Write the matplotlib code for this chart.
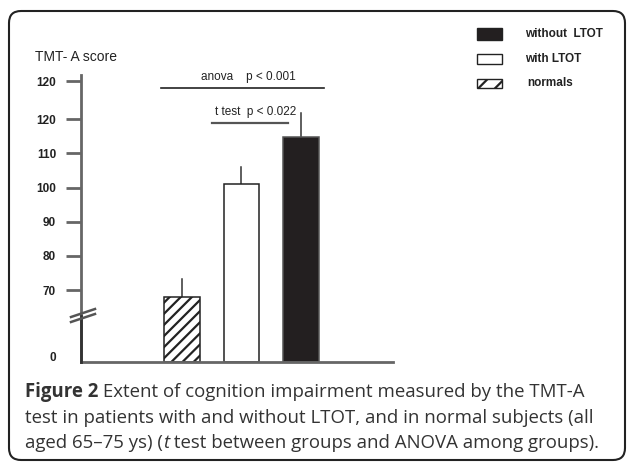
import matplotlib
matplotlib.use("Agg")
import matplotlib.pyplot as plt
from matplotlib.patches import Rectangle, FancyBboxPatch
from matplotlib.lines import Line2D
from matplotlib.transforms import IdentityTransform

# ---- data ----
groups = ["normals", "with LTOT", "without LTOT"]
means = [68.0, 100.9, 114.7]
errors = [5.2, 5.2, 7.0]
tick_values = [50.5, 70, 80, 90, 100, 110, 120, 131]
tick_labels = ["0", "70", "80", "90", "100", "110", "120", "120"]
legend_labels = ["without  LTOT", "with LTOT", "normals"]
anova_text = "anova    p < 0.001"
ttest_text = "t test  p < 0.022"
axis_title = "TMT- A score"
caption_lines = [
    [("Figure 2", "bold", "normal"), (" Extent of cognition impairment measured by the TMT-A", "normal", "normal")],
    [("test in patients with and without LTOT, and in normal subjects (all", "normal", "normal")],
    [("aged 65\u201375 ys) (", "normal", "normal"), ("t", "normal", "italic"),
     (" test between groups and ANOVA among groups).", "normal", "normal")],
]

W, H = 629, 462
plt.rcParams["hatch.linewidth"] = 1.6
fig = plt.figure(figsize=(W / 100, H / 100), dpi=100)
fig.patch.set_facecolor("white")

def fx(x):
    return x / W

def fy(y):
    return 1 - y / H

# axes placed in pixel terms
left, right, top, bottom = 81, 393, 75, 362
ax = fig.add_axes([fx(left), fy(bottom), (right - left) / W, (bottom - top) / H])
ax.set_facecolor("none")

ybot = 49.0
x = [0, 1, 2]
faces = ["white", "white", "#231f20"]
edges = ["#222222", "#222222", "#555555"]
hatches = ["///", None, None]
for xi, m, e, fc, ec, h in zip(x, means, errors, faces, edges, hatches):
    ax.bar(xi, m - ybot, bottom=ybot, width=0.6, color=fc, edgecolor=ec,
           linewidth=1.1, hatch=h, zorder=2)
    ax.plot([xi, xi], [m, m + e], color="#333333", lw=1.1, zorder=1)

ax.set_xlim(-1.70, 3.55)
ax.set_ylim(ybot, 132.9)
ax.set_xticks([])
ax.set_yticks(tick_values)
ax.set_yticklabels(tick_labels, fontfamily="Liberation Sans", fontweight="bold",
                   fontsize=8.5, color="#222222")
ax.tick_params(axis="y", direction="out", length=11, width=2, color="#666666", pad=7)
ax.yaxis.get_major_ticks()[0].tick1line.set_visible(False)
for s in ["top", "right"]:
    ax.spines[s].set_visible(False)
ax.spines["left"].set_color("#666666")
ax.spines["left"].set_linewidth(2)
ax.spines["bottom"].set_color("#666666")
ax.spines["bottom"].set_linewidth(2)
# darker lower segment of axis below the break
ax.plot([-1.70, -1.70], [ybot, 62.5], color="#333333", lw=2, clip_on=False, zorder=3)

# axis break marks
for dy in (0, 5):
    fig.add_artist(Line2D([fx(71), fx(95)], [fy(322 - dy), fy(314 - dy)],
                          color="#555555", lw=1.8))

# annotations
ax.text(1.11, 132.3, anova_text, ha="center", va="center", fontsize=8.5,
        fontfamily="Liberation Sans", color="#222222", clip_on=False)
ax.plot([-0.35, 2.39], [129.1, 129.1], color="#222222", lw=1.2, clip_on=False)
ax.text(1.23, 122.0, ttest_text, ha="center", va="center", fontsize=8.5,
        fontfamily="Liberation Sans", color="#222222", clip_on=False)
ax.plot([0.50, 1.78], [118.8, 118.8], color="#555555", lw=1.6, clip_on=False)

# axis title
fig.text(fx(35), fy(57), axis_title, ha="left", va="center", fontsize=10,
         fontfamily="Liberation Sans", color="#222222")

# legend
leg_y = [34, 59, 83.5]
leg_h = [12, 10, 9]
leg_fc = ["#231f20", "white", "white"]
leg_hatch = [None, None, "//"]
for lab, yc, hh, fc, hc in zip(legend_labels, leg_y, leg_h, leg_fc, leg_hatch):
    r = Rectangle((fx(477), fy(yc + hh / 2)), 25 / W, hh / H, transform=fig.transFigure,
                  facecolor=fc, edgecolor="#222222", lw=1.0, hatch=hc)
    fig.add_artist(r)
    fig.text(fx(525 if lab != "normals" else 527), fy(yc), lab, ha="left", va="center",
             fontsize=8.5, fontweight="bold", fontfamily="Liberation Sans", color="#222222")

# rounded frame
frame = FancyBboxPatch((9, H - 460), 616, 449, boxstyle="round,pad=0,rounding_size=12",
                       transform=IdentityTransform(), facecolor="none",
                       edgecolor="#222222", lw=1.5)
fig.add_artist(frame)

# caption
fig.canvas.draw()
renderer = fig.canvas.get_renderer()
line_y = [392, 418, 443]
for runs, yc in zip(caption_lines, line_y):
    xpos = 25
    for txt, wt, st in runs:
        t = fig.text(fx(xpos), fy(yc), txt, ha="left", va="center", fontsize=13.4,
                     fontweight=wt, fontstyle=st, fontfamily="Open Sans", color="#333333")
        bb = t.get_window_extent(renderer)
        xpos += bb.width

fig.savefig("out.png", dpi=100)
